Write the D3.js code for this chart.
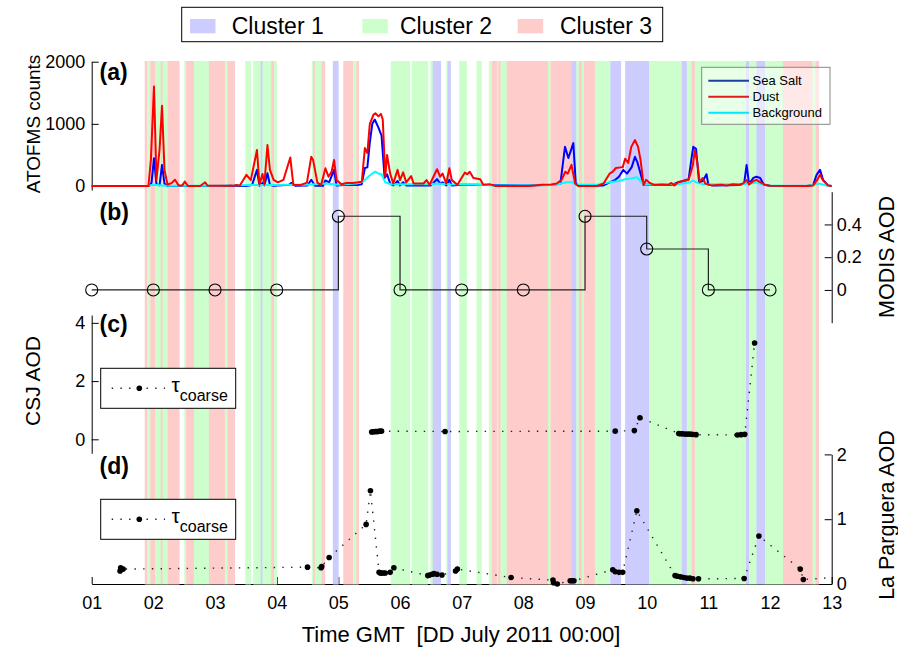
<!DOCTYPE html>
<html>
<head>
<meta charset="utf-8">
<script src="https://cdn.jsdelivr.net/npm/d3@7"></script>
<style>
body { margin: 0; background: #fff; }
svg { display: block; font-family: "Liberation Sans", Arial, Helvetica, sans-serif; }
.axis text { font-size: 18px; fill: #000; font-family: "Liberation Sans", Arial, sans-serif; }
.axis path, .axis line { stroke: #000; stroke-width: 1; }
</style>
</head>
<body>
<svg id="chart" width="898" height="648"></svg>
<script>
// cluster bands: [start day, end day, cluster]
var bands = [
    [1.86,1.90,3],[1.90,1.95,2],[1.95,2.03,3],[2.03,2.12,2],[2.12,2.15,3],[2.15,2.23,2],[2.23,2.42,3],
    [2.50,2.53,2],[2.53,2.66,3],[2.66,2.90,2],[2.90,3.16,3],[3.16,3.20,2],[3.20,3.32,3],
    [3.49,3.58,2],[3.62,3.74,2],[3.74,3.77,1],[3.77,3.91,2],[3.91,3.96,3],[3.96,4.00,2],
    [4.57,4.59,2],[4.59,4.62,3],[4.62,4.73,2],[4.73,4.78,3],
    [4.91,5.00,1],[5.08,5.24,3],[5.24,5.29,2],[5.29,5.33,3],
    [5.85,6.16,2],[6.19,6.45,2],[6.49,6.53,2],[6.53,6.66,1],[6.75,6.77,2],[6.77,6.82,1],
    [6.96,7.08,2],[7.24,7.32,2],
    [7.44,7.49,2],[7.49,7.57,3],[7.57,7.59,2],[7.59,7.63,3],[7.63,7.73,2],[7.73,8.40,3],
    [8.40,8.44,2],[8.44,8.78,3],[8.78,8.86,1],[8.86,8.90,2],[8.90,8.95,3],[8.95,8.98,2],
    [8.98,9.16,3],[9.16,9.41,2],[9.41,9.58,1],[9.65,10.04,1],[10.04,10.57,2],[10.57,10.65,1],
    [10.65,10.73,2],[10.73,10.78,3],[10.78,11.61,2],[11.61,11.66,1],[11.66,11.78,2],
    [11.78,11.92,1],[11.92,12.21,2],[12.21,12.69,3],[12.69,12.74,2],[12.74,12.79,3]
]
var clusterNames = ["Cluster 1", "Cluster 2", "Cluster 3"]
var clusterColors = ["#ccccff", "#ccffcc", "#ffcccc"]

// (a) ATOFMS counts [day, counts]
var seaSalt = [
    [1.00,0],[1.93,0],[1.97,50],[2.01,445],[2.05,30],[2.10,10],[2.14,340],[2.18,40],[2.23,0],
    [3.50,0],[3.60,15],[3.68,260],[3.72,5],[3.77,50],[3.80,10],[3.85,205],[3.89,20],[3.95,5],
    [4.20,20],[4.24,50],[4.30,5],[4.50,10],[4.56,100],[4.62,5],[4.75,5],[4.79,90],[4.85,60],
    [4.93,260],[4.97,10],[5.10,15],[5.30,15],[5.38,30],[5.43,290],[5.47,300],[5.51,700],
    [5.55,1000],[5.59,1070],[5.65,940],[5.70,810],[5.75,130],[5.79,190],[5.84,40],[5.89,10],
    [5.96,80],[6.00,10],[6.05,60],[6.10,10],[6.50,10],[6.60,110],[6.65,40],[6.69,60],[6.75,10],
    [6.80,100],[6.84,10],[7.00,20],[7.20,20],[7.50,15],[8.00,10],[8.50,20],[8.60,40],[8.675,630],
    [8.73,450],[8.81,690],[8.85,40],[8.90,0],[9.30,10],[9.40,60],[9.49,100],[9.55,150],[9.62,260],
    [9.68,200],[9.755,300],[9.81,470],[9.85,380],[9.90,200],[9.95,15],[10.00,20],[10.40,15],
    [10.51,60],[10.59,80],[10.68,110],[10.73,470],[10.755,630],[10.80,600],[10.85,60],[10.91,80],
    [10.97,190],[11.00,20],[11.10,10],[11.50,15],[11.58,40],[11.62,340],[11.66,30],[11.73,130],
    [11.78,150],[11.84,130],[11.90,20],[12.00,5],[12.60,0],[12.70,20],[12.755,180],[12.81,260],
    [12.86,100],[12.94,10],[13.00,0]
]
var dust = [
    [1.00,0],[1.92,0],[1.96,420],[2.01,1600],[2.05,100],[2.10,580],[2.14,1290],[2.18,260],[2.23,20],
    [2.30,50],[2.35,100],[2.41,10],[2.47,10],[2.51,70],[2.56,0],[2.76,0],[2.84,60],[2.88,5],
    [3.20,5],[3.25,10],[3.30,5],[3.35,15],[3.40,5],[3.51,180],[3.58,95],[3.68,580],[3.72,25],
    [3.77,195],[3.80,25],[3.85,660],[3.89,260],[3.95,100],[4.02,60],[4.11,100],[4.22,460],
    [4.27,15],[4.38,15],[4.49,55],[4.56,470],[4.59,420],[4.66,55],[4.72,15],[4.79,285],[4.84,150],
    [4.89,230],[4.93,420],[4.97,95],[5.05,30],[5.13,50],[5.23,50],[5.32,60],[5.38,70],[5.43,610],
    [5.47,530],[5.51,1000],[5.57,1150],[5.60,1170],[5.65,1120],[5.69,1160],[5.72,1070],[5.76,150],
    [5.79,500],[5.84,200],[5.89,40],[5.96,260],[6.00,95],[6.05,220],[6.10,60],[6.18,160],[6.22,40],
    [6.38,40],[6.43,95],[6.48,20],[6.60,270],[6.65,150],[6.69,200],[6.75,40],[6.80,285],[6.84,95],
    [6.93,20],[7.05,215],[7.09,190],[7.13,230],[7.19,130],[7.30,110],[7.35,20],[7.45,30],[7.55,0],
    [8.10,0],[8.30,20],[8.45,25],[8.54,40],[8.62,100],[8.68,230],[8.72,200],[8.78,340],[8.84,40],
    [8.89,0],[9.20,0],[9.30,40],[9.40,200],[9.45,230],[9.50,290],[9.58,300],[9.61,300],[9.65,440],
    [9.70,370],[9.75,630],[9.81,740],[9.86,630],[9.90,420],[9.95,15],[9.99,100],[10.05,50],
    [10.13,15],[10.25,25],[10.35,20],[10.40,50],[10.45,10],[10.51,60],[10.59,80],[10.68,100],
    [10.75,340],[10.78,580],[10.82,380],[10.86,60],[10.91,130],[10.95,40],[11.05,10],[11.20,20],
    [11.30,10],[11.40,30],[11.50,20],[11.56,40],[11.62,95],[11.66,25],[11.73,80],[11.78,100],
    [11.86,50],[11.92,20],[12.00,5],[12.60,0],[12.70,10],[12.76,90],[12.81,180],[12.86,90],
    [12.94,10],[13.00,0]
]
var background = [
    [1.00,0],[1.90,0],[2.00,20],[2.20,5],[3.00,5],[3.60,15],[3.90,15],[4.20,20],[4.50,20],[4.80,40],
    [5.00,20],[5.30,40],[5.40,70],[5.50,160],[5.55,200],[5.60,230],[5.65,200],[5.70,190],[5.76,60],
    [5.85,30],[6.00,30],[6.50,30],[6.60,40],[6.80,30],[7.20,25],[7.50,10],[8.00,10],[8.50,15],
    [8.70,60],[8.80,60],[8.85,20],[9.20,20],[9.40,60],[9.55,80],[9.65,110],[9.75,120],[9.84,140],
    [9.90,80],[9.95,20],[10.50,30],[10.70,60],[10.75,90],[10.80,60],[10.90,30],[11.60,30],
    [11.62,50],[11.70,40],[11.78,60],[11.85,30],[12.00,10],[12.60,5],[12.80,40],[12.90,10],[13.00,0]
]
var seriesNames = ["Sea Salt", "Dust", "Background"]

// (b) MODIS AOD, one value per day
var modisDays = [1,2,3,4,5,6,7,8,9,10,11,12]
var modisAOD = [0,0,0,0,0.45,0,0,0,0.45,0.25,0,0]

// (c) CSJ coarse AOD [day, aod]
var csjCoarse = [
    [5.54,0.25],[5.56,0.26],[5.58,0.26],[5.60,0.27],[5.62,0.27],[5.64,0.27],[5.67,0.28],[5.70,0.28],
    [6.73,0.27],[9.49,0.28],[9.80,0.30],[9.89,0.74],[10.52,0.20],[10.55,0.19],[10.58,0.19],
    [10.62,0.18],[10.66,0.18],[10.70,0.18],[10.74,0.17],[10.80,0.16],[11.47,0.15],[11.53,0.16],
    [11.59,0.17],[11.75,3.31]
]

// (d) La Parguera coarse AOD [day, aod]
var parguera = [
    [1.46,0.20],[1.47,0.25],[1.51,0.23],[4.50,0.26],[4.72,0.25],[4.73,0.27],[4.85,0.41],[5.45,0.92],
    [5.52,1.44],[5.66,0.18],[5.68,0.17],[5.70,0.17],[5.73,0.17],[5.76,0.17],[5.84,0.18],[5.90,0.25],
    [6.45,0.13],[6.48,0.14],[6.52,0.15],[6.55,0.16],[6.60,0.15],[6.68,0.14],[6.90,0.20],[6.93,0.23],
    [7.80,0.10],[8.48,0.06],[8.49,0.02],[8.55,0.00],[8.76,0.05],[8.79,0.05],[8.82,0.05],[9.45,0.22],
    [9.49,0.19],[9.55,0.18],[9.61,0.18],[9.84,1.13],[10.46,0.13],[10.50,0.12],[10.55,0.11],
    [10.60,0.10],[10.65,0.09],[10.70,0.09],[10.75,0.08],[10.84,0.08],[11.58,0.085],[11.82,0.74],
    [12.49,0.23],[12.54,0.07],[13.20,0.11]
]

var dayTicks = d3.range(1, 14)

var svg = d3.select("#chart")
svg.append("rect").attr("width", 898).attr("height", 648).attr("fill", "#fff")

var dimensions = {
    left: 91.7,
    right: 831.7,
    bandTop: 61,
    bandBottom: 584.5
}

var xScale = d3.scaleLinear().domain([1, 13]).range([dimensions.left, dimensions.right])
var yA = d3.scaleLinear().domain([-64, 2000]).range([190, 61.7])
var yB = d3.scaleLinear().domain([-0.2, 0.6]).range([322.7, 191.7])
var yC = d3.scaleLinear().domain([-0.48, 4.27]).range([453.3, 315])
var yD = d3.scaleLinear().domain([0, 2]).range([584, 454.4])

var tickFmt = d3.format("~g")

function styleAxis(g) {
    g.attr("font-family", null).attr("font-size", null)
}

// axes first, the bands sit on top of them like in the original
svg.append("g").attr("class", "axis")
    .attr("transform", `translate(${dimensions.left},0)`)
    .call(d3.axisLeft(yA).tickValues([0, 1000, 2000]).tickFormat(tickFmt).tickSizeInner(-7).tickSizeOuter(0).tickPadding(6.5))
    .call(styleAxis)

svg.append("g").attr("class", "axis")
    .attr("transform", `translate(${dimensions.right},0)`)
    .call(d3.axisRight(yB).tickValues([0, 0.2, 0.4]).tickFormat(tickFmt).tickSizeInner(-7).tickSizeOuter(0).tickPadding(5))
    .call(styleAxis)

svg.append("g").attr("class", "axis")
    .attr("transform", `translate(${dimensions.left},0)`)
    .call(d3.axisLeft(yC).tickValues([0, 2, 4]).tickFormat(tickFmt).tickSizeInner(-7).tickSizeOuter(0).tickPadding(6.5))
    .call(styleAxis)

svg.append("g").attr("class", "axis")
    .attr("transform", `translate(${dimensions.right},0)`)
    .call(d3.axisRight(yD).tickValues([0, 1, 2]).tickFormat(tickFmt).tickSizeInner(-7).tickSizeOuter(0).tickPadding(5))
    .call(styleAxis)

svg.append("g").attr("class", "axis")
    .attr("transform", `translate(0,${yD(0)})`)
    .call(d3.axisBottom(xScale).tickValues(dayTicks).tickFormat(d3.format("02d")).tickSizeInner(-7).tickSizeOuter(0).tickPadding(12))
    .call(styleAxis)

// cluster bands
svg.append("g")
    .selectAll("rect")
    .data(bands)
    .enter()
    .append("rect")
    .attr("x", d => xScale(d[0]))
    .attr("width", d => xScale(d[1]) - xScale(d[0]) + 0.3)
    .attr("y", dimensions.bandTop)
    .attr("height", dimensions.bandBottom - dimensions.bandTop)
    .attr("fill", d => clusterColors[d[2] - 1])

// (a) lines
var lineA = d3.line().x(d => xScale(d[0])).y(d => yA(d[1]))
var aSeries = [
    {data: seaSalt, color: "#0000ff"},
    {data: background, color: "#00ffff"},
    {data: dust, color: "#ff0000"}
]
svg.append("g")
    .selectAll("path")
    .data(aSeries)
    .enter()
    .append("path")
    .attr("d", d => lineA(d.data))
    .attr("fill", "none")
    .attr("stroke", d => d.color)
    .attr("stroke-width", 2)
    .attr("stroke-linejoin", "round")

// (a) legend
var legA = svg.append("g")
legA.append("rect")
    .attr("x", 701.7).attr("y", 67.3).attr("width", 128.3).attr("height", 57)
    .attr("fill", "#fff").attr("fill-opacity", 0.55)
    .attr("stroke", "#888").attr("stroke-width", 1)
var legColors = ["#1f3fa0", "#e01c1c", "#00e8ff"]
seriesNames.forEach(function(name, i) {
    var yy = 80.7 + i * 16
    legA.append("line")
        .attr("x1", 708.3).attr("x2", 749).attr("y1", yy).attr("y2", yy)
        .attr("stroke", legColors[i]).attr("stroke-width", 2)
    legA.append("text")
        .attr("x", 752.5).attr("y", yy + 4.6)
        .attr("font-size", 13)
        .text(name)
})

// (b) MODIS stairs
var lineB = d3.line().curve(d3.curveStepAfter).x(d => xScale(d[0])).y(d => yB(d[1]))
var modisPts = modisDays.map((d, i) => [d, modisAOD[i]])
svg.append("path")
    .attr("d", lineB(modisPts))
    .attr("fill", "none")
    .attr("stroke", "#222")
    .attr("stroke-width", 1.2)
svg.append("g")
    .selectAll("circle")
    .data(modisPts)
    .enter()
    .append("circle")
    .attr("cx", d => xScale(d[0]))
    .attr("cy", d => yB(d[1]))
    .attr("r", 6)
    .attr("fill", "none")
    .attr("stroke", "#000")
    .attr("stroke-width", 1.1)

// (c) and (d) dotted series
svg.append("clipPath").attr("id", "clipD")
    .append("rect").attr("x", dimensions.left).attr("y", 440).attr("width", dimensions.right - dimensions.left).attr("height", 150)

function dottedSeries(data, yScale, clip) {
    var g = svg.append("g")
    if (clip) g.attr("clip-path", "url(#clipD)")
    var line = d3.line().x(d => xScale(d[0])).y(d => yScale(d[1]))
    g.append("path")
        .attr("d", line(data))
        .attr("fill", "none")
        .attr("stroke", "#222")
        .attr("stroke-width", 1.4)
        .attr("stroke-dasharray", "1.4,7.3")
    g.selectAll("circle")
        .data(data.filter(d => d[0] <= 13))
        .enter()
        .append("circle")
        .attr("cx", d => xScale(d[0]))
        .attr("cy", d => yScale(d[1]))
        .attr("r", 2.8)
        .attr("fill", "#000")
}
dottedSeries(csjCoarse, yC, false)
dottedSeries(parguera, yD, true)

// tau legends
function tauLegend(y0) {
    var g = svg.append("g")
    g.append("rect")
        .attr("x", 100.7).attr("y", y0).attr("width", 135).attr("height", 40)
        .attr("fill", "#fff").attr("stroke", "#000").attr("stroke-width", 1)
    g.append("line")
        .attr("x1", 111.7).attr("x2", 165).attr("y1", y0 + 20).attr("y2", y0 + 20)
        .attr("stroke", "#222").attr("stroke-width", 1.4).attr("stroke-dasharray", "1.4,7.3")
    g.append("circle").attr("cx", 139.3).attr("cy", y0 + 20).attr("r", 2.8).attr("fill", "#000")
    var t = g.append("text").attr("x", 171.5).attr("y", y0 + 23.5).attr("font-size", 21)
    t.append("tspan").text("τ")
    t.append("tspan").attr("dy", 9.5).attr("font-size", 16).text("coarse")
}
tauLegend(368.3)
tauLegend(499.3)

// panel letters
var panelLetters = ["(a)", "(b)", "(c)", "(d)"]
var panelY = [80, 220, 332, 474]
svg.append("g")
    .selectAll("text")
    .data(panelLetters)
    .enter()
    .append("text")
    .attr("x", 99.5)
    .attr("y", (d, i) => panelY[i])
    .attr("font-size", 23)
    .attr("font-weight", "bold")
    .text(d => d)

// axis titles
function vLabel(text, x, y, size) {
    svg.append("text")
        .attr("transform", `translate(${x},${y}) rotate(-90)`)
        .attr("text-anchor", "middle")
        .attr("font-size", size)
        .text(text)
}
vLabel("ATOFMS counts", 40, 124, 19)
vLabel("CSJ AOD", 40, 381, 21)
vLabel("MODIS AOD", 894, 257, 21.5)
vLabel("La Parguera AOD", 894, 515, 21.5)

svg.append("text")
    .attr("x", 461).attr("y", 642)
    .attr("text-anchor", "middle")
    .attr("font-size", 22)
    .style("white-space", "pre")
    .text("Time GMT  [DD July 2011 00:00]")

// top cluster legend
var legTop = svg.append("g")
legTop.append("rect")
    .attr("x", 181.7).attr("y", 7.3).attr("width", 481).attr("height", 34.4)
    .attr("fill", "#fff").attr("stroke", "#000").attr("stroke-width", 1)
var patchX = [190, 362.3, 517.7]
var labelX = [231.7, 400, 560]
clusterNames.forEach(function(name, i) {
    legTop.append("rect")
        .attr("x", patchX[i]).attr("y", 19).attr("width", 25.5).attr("height", 14.3)
        .attr("fill", clusterColors[i])
    legTop.append("text")
        .attr("x", labelX[i]).attr("y", 34.3)
        .attr("font-size", 23)
        .text(name)
})
</script>
</body>
</html>
